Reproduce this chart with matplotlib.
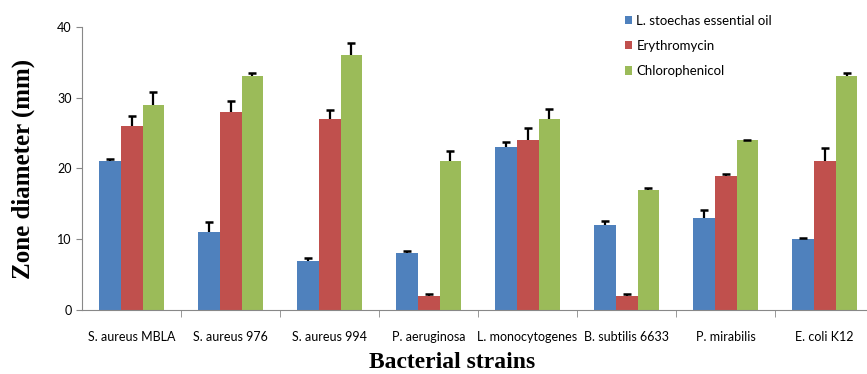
import numpy as np
import matplotlib
matplotlib.use("Agg")
import matplotlib.pyplot as plt

# data
strains = ["S. aureus MBLA", "S. aureus 976", "S. aureus 994", "P. aeruginosa",
           "L. monocytogenes", "B. subtilis 6633", "P. mirabilis", "E. coli K12"]
oil = [21, 11, 7, 8, 23, 12, 13, 10]
oil_err = [0.4, 1.5, 0.4, 0.3, 0.8, 0.6, 1.1, 0.2]
ery = [26, 28, 27, 2, 24, 2, 19, 21]
ery_err = [1.4, 1.6, 1.3, 0.2, 1.7, 0.2, 0.2, 1.9]
chl = [29, 33, 36, 21, 27, 17, 24, 33]
chl_err = [1.8, 0.5, 1.7, 1.5, 1.4, 0.2, 0.0, 0.5]
names = ["L. stoechas essential oil", "Erythromycin", "Chlorophenicol"]
colors = ["#4F81BD", "#C0504D", "#9BBB59"]

fig = plt.figure(figsize=(8.67, 3.74), dpi=100)
ax = fig.add_axes([0.0946, 0.171, 0.9135, 0.757])

x = np.arange(len(strains))
w = 0.222
series = [(oil, oil_err), (ery, ery_err), (chl, chl_err)]
for i, (vals, err) in enumerate(series):
    xs = x + (i - 1) * w
    vals = np.array(vals)
    err = np.array(err)
    ax.bar(xs, vals, w, color=colors[i], label=names[i], zorder=2)
    # only the upper half of the error bar, as in the original
    ax.vlines(xs, vals, vals + err, color="black", lw=1.6, zorder=3)
    ax.plot(xs, vals + err, ls="none", marker="_", ms=6, mew=1.8,
            color="black", zorder=3)

ax.set_xlim(-0.5, len(strains) - 0.5)
ax.set_ylim(0, 40)
ax.set_yticks([0, 10, 20, 30, 40])
ax.set_xticks(x)
ax.set_xticklabels(strains, fontsize=9, family="Lato")
ax.set_xticks(np.arange(0.5, len(strains) - 0.5, 1), minor=True)
ax.tick_params(axis="x", which="major", length=0, pad=15)
ax.tick_params(axis="x", which="minor", length=5, color="#888888")
ax.tick_params(axis="y", length=4, color="#888888", labelsize=9)
for lbl in ax.get_yticklabels():
    lbl.set_family("Lato")
for s in ["top", "right"]:
    ax.spines[s].set_visible(False)
for s in ["left", "bottom"]:
    ax.spines[s].set_color("#888888")

ax.set_ylabel("Zone diameter (mm)", fontsize=18, fontweight="bold",
              family="Liberation Serif")
ax.yaxis.set_label_coords(-0.059, 0.50)
ax.set_xlabel("Bacterial strains", fontsize=17, fontweight="bold",
              family="Liberation Serif")
ax.xaxis.set_label_coords(0.467, -0.148)

ax.legend(loc="upper left", bbox_to_anchor=(0.67, 1.085), frameon=False,
          prop=dict(family="Lato", size=9.5), handlelength=0.6, handleheight=0.6,
          handletextpad=0.3, labelspacing=1.0)

fig.savefig("out.png", dpi=100)
